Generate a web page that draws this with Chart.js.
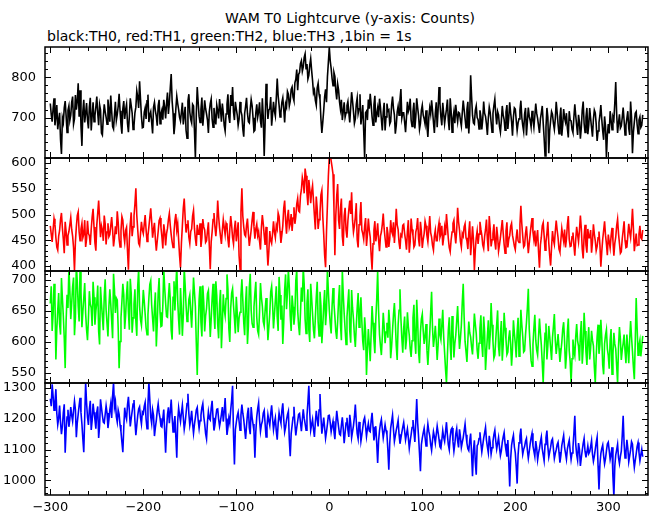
<!DOCTYPE html>
<html>
<head>
<meta charset="utf-8">
<script src="https://cdn.jsdelivr.net/npm/chart.js@4.4.0/dist/chart.umd.min.js"></script>
<style>
  body { margin: 0; background: #fff; }
  #wrap { position: relative; width: 652px; height: 515px; font-family: "DejaVu Sans", sans-serif; }
  .txt { position: absolute; font-size: 14px; line-height: 16px; color: #000; white-space: nowrap; }
  canvas { position: absolute; left: 0; }
</style>
</head>
<body>
<div id="wrap">
  <div class="txt" style="left:48px;width:604px;text-align:center;top:10px">WAM T0 Lightcurve (y-axis: Counts)</div>
  <div class="txt" style="left:47px;top:28px">black:TH0, red:TH1, green:TH2, blue:TH3 ,1bin = 1s</div>
</div>
<script>
// 1 s bins starting at t = -300 s, counts (20 bins per row)
const binStart = -300;
const binWidth = 1;

const th0 = [
  735, 708, 690, 722, 748, 681, 702, 731, 671, 694, 712, 646, 610, 699, 688, 724, 741, 705, 663, 718,
  729, 693, 706, 738, 752, 684, 697, 756, 720, 741, 785, 702, 768, 679, 630, 715, 744, 688, 711, 736,
  694, 673, 726, 749, 668, 704, 738, 690, 705, 727, 752, 711, 681, 732, 719, 662, 657, 700, 733, 715,
  701, 684, 745, 720, 690, 755, 716, 678, 672, 707, 739, 693, 708, 728, 759, 717, 684, 660, 722, 741,
  697, 719, 733, 686, 664, 703, 748, 730, 712, 671, 680, 712, 726, 766, 751, 724, 790, 746, 703, 675,
  676, 713, 724, 697, 742, 757, 689, 707, 715, 688, 661, 726, 738, 717, 703, 680, 729, 744, 685, 710,
  719, 695, 744, 726, 698, 735, 762, 709, 737, 773, 808, 741, 711, 659, 684, 722, 753, 735, 720, 701,
  692, 714, 737, 683, 705, 727, 668, 649, 741, 758, 714, 696, 687, 733, 729, 668, 601, 709, 776, 738,
  703, 688, 721, 750, 680, 709, 743, 722, 709, 694, 662, 715, 735, 746, 697, 676, 724, 702, 683, 731,
  717, 698, 746, 721, 690, 735, 712, 681, 667, 709, 733, 758, 702, 687, 756, 729, 776, 714, 694, 739,
  722, 707, 681, 696, 739, 716, 706, 672, 653, 711, 728, 749, 711, 690, 687, 721, 745, 730, 700, 666,
  669, 712, 733, 701, 714, 738, 692, 675, 748, 702, 605, 688, 784, 741, 697, 719, 722, 751, 680, 708,
  739, 716, 704, 748, 797, 754, 731, 702, 712, 738, 749, 721, 688, 734, 726, 765, 758, 729, 741, 770,
  776, 751, 742, 786, 795, 819, 768, 807, 812, 834, 841, 815, 826, 849, 858, 821, 833, 796, 805, 830,
  846, 817, 792, 761, 768, 743, 731, 774, 785, 758, 746, 697, 662, 689, 718, 752, 770, 738, 801, 837,
  874, 841, 822, 797, 779, 812, 802, 766, 745, 783, 768, 739, 721, 744, 694, 715, 738, 701, 712, 730,
  740, 712, 688, 725, 763, 741, 715, 686, 697, 733, 749, 710, 722, 758, 683, 704, 731, 667, 601, 712,
  716, 694, 745, 722, 759, 733, 702, 681, 731, 754, 688, 709, 724, 701, 747, 726, 696, 668, 713, 737,
  668, 702, 735, 716, 719, 684, 690, 731, 752, 723, 707, 660, 681, 714, 728, 706, 744, 771, 699, 712,
  712, 689, 664, 701, 739, 715, 723, 747, 694, 678, 716, 737, 673, 702, 748, 725, 705, 671, 686, 718,
  731, 706, 697, 684, 718, 679, 652, 700, 724, 709, 743, 718, 689, 662, 711, 738, 676, 720, 776, 735,
  702, 681, 737, 710, 685, 704, 721, 745, 693, 669, 748, 716, 664, 698, 715, 686, 732, 709, 690, 713,
  711, 693, 679, 712, 742, 720, 698, 675, 720, 739, 661, 704, 805, 752, 706, 687, 684, 718, 729, 700,
  695, 672, 718, 703, 671, 696, 740, 711, 703, 684, 657, 699, 726, 713, 689, 664, 711, 730, 746, 708,
  683, 715, 707, 678, 664, 692, 729, 706, 695, 669, 714, 731, 672, 700, 738, 712, 690, 655, 702, 724,
  721, 694, 668, 687, 697, 718, 742, 701, 681, 666, 709, 724, 656, 690, 725, 703, 693, 677, 717, 695,
  676, 704, 735, 711, 698, 680, 662, 697, 712, 729, 687, 650, 605, 676, 724, 701, 612, 668, 693, 715,
  708, 686, 671, 697, 739, 713, 684, 660, 702, 725, 655, 682, 721, 699, 689, 711, 674, 651, 716, 694,
  692, 671, 663, 701, 733, 705, 680, 657, 707, 689, 648, 676, 719, 740, 686, 663, 701, 724, 659, 682,
  724, 698, 675, 653, 696, 719, 712, 684, 642, 667, 688, 706, 731, 695, 667, 645, 703, 679, 601, 658,
  684, 661, 716, 694, 670, 702, 695, 736, 788, 709, 662, 687, 708, 674, 679, 700, 725, 693, 657, 681,
  698, 716, 673, 657, 740, 701, 612, 664, 689, 711, 715, 683, 660, 694, 702, 676, 681, 707
];

const th1 = [
  478, 462, 447, 470, 492, 481, 455, 437, 431, 458, 469, 490, 503, 474, 452, 425, 486, 467, 441, 459,
  467, 480, 494, 471, 458, 436, 391, 447, 476, 498, 505, 466, 449, 472, 483, 455, 462, 489, 437, 452,
  488, 463, 459, 441, 472, 495, 511, 476, 445, 430, 480, 503, 527, 491, 456, 478, 470, 449, 498, 482,
  442, 466, 483, 457, 461, 478, 495, 470, 438, 454, 477, 462, 506, 485, 452, 437, 468, 496, 489, 460,
  446, 469, 475, 430, 393, 451, 482, 504, 458, 476, 497, 520, 551, 498, 471, 444, 440, 463, 486, 470,
  463, 481, 499, 470, 448, 459, 476, 494, 512, 486, 455, 471, 484, 452, 430, 449, 467, 488, 493, 475,
  457, 434, 481, 467, 440, 463, 473, 490, 502, 479, 461, 447, 436, 465, 488, 501, 470, 482, 451, 420,
  397, 445, 478, 512, 531, 494, 465, 480, 489, 456, 444, 467, 472, 497, 508, 473, 453, 439, 480, 462,
  462, 483, 437, 455, 491, 476, 470, 446, 449, 468, 485, 439, 394, 447, 466, 490, 503, 477, 458, 481,
  527, 496, 474, 458, 443, 469, 490, 475, 461, 483, 478, 452, 436, 471, 497, 479, 455, 443, 472, 488,
  448, 466, 485, 420, 394, 505, 551, 497, 476, 461, 458, 479, 492, 463, 439, 454, 470, 489, 505, 477,
  453, 472, 481, 459, 467, 448, 432, 475, 499, 482, 460, 441, 476, 437, 401, 429, 468, 450, 444, 463,
  487, 466, 455, 479, 472, 503, 496, 468, 445, 461, 478, 512, 527, 489, 463, 494, 509, 475, 482, 501,
  468, 493, 514, 482, 496, 520, 531, 507, 505, 536, 548, 572, 562, 541, 589, 575, 541, 518, 567, 549,
  522, 544, 556, 527, 498, 471, 535, 511, 472, 490, 503, 538, 547, 496, 462, 421, 398, 467, 519, 574,
  612, 615, 604, 592, 578, 514, 421, 498, 536, 559, 489, 472, 512, 531, 458, 439, 497, 513, 470, 455,
  488, 509, 527, 501, 543, 489, 466, 478, 495, 522, 451, 436, 480, 497, 524, 470, 463, 452, 477, 493,
  439, 461, 492, 470, 456, 421, 393, 443, 470, 487, 448, 462, 483, 451, 429, 458, 466, 481, 502, 472,
  454, 437, 476, 463, 437, 452, 489, 468, 462, 485, 445, 472, 511, 480, 471, 446, 433, 461, 458, 479,
  481, 463, 450, 432, 467, 489, 426, 448, 492, 471, 459, 437, 441, 466, 474, 493, 452, 438, 486, 468,
  435, 452, 463, 487, 478, 459, 447, 471, 497, 465, 456, 440, 431, 458, 470, 449, 449, 472, 484, 456,
  462, 478, 440, 455, 475, 460, 501, 477, 453, 436, 428, 451, 466, 483, 489, 462, 444, 470, 513, 486,
  470, 448, 437, 463, 458, 476, 482, 455, 449, 433, 465, 487, 421, 446, 477, 452, 392, 431, 455, 468,
  443, 462, 486, 471, 460, 441, 434, 457, 471, 490, 452, 429, 497, 473, 438, 451, 463, 481, 447, 432,
  476, 458, 429, 441, 455, 472, 489, 464, 442, 425, 468, 485, 436, 452, 459, 477, 483, 460, 450, 439,
  432, 455, 471, 449, 446, 480, 517, 482, 458, 437, 440, 463, 477, 451, 425, 444, 462, 479, 493, 466,
  451, 469, 438, 454, 470, 428, 397, 441, 456, 478, 484, 459, 431, 447, 463, 486, 445, 420, 401, 437,
  468, 451, 442, 467, 488, 470, 455, 433, 427, 450, 473, 459, 448, 471, 436, 452, 480, 497, 452, 438,
  439, 457, 465, 441, 420, 452, 476, 461, 447, 470, 498, 473, 433, 415, 458, 480, 441, 426, 472, 455,
  455, 470, 426, 447, 481, 462, 449, 430, 438, 455, 467, 441, 399, 428, 452, 469, 487, 460, 443, 421,
  461, 447, 435, 458, 474, 449, 420, 444, 456, 478, 491, 463, 444, 425, 428, 453, 469, 487, 450, 436,
  437, 459, 482, 466, 455, 478, 511, 474, 429, 446, 463, 440, 441, 462, 478, 455, 452, 470
];

const th2 = [
  662, 690, 618, 645, 694, 668, 572, 621, 651, 679, 629, 612, 703, 671, 642, 607, 558, 634, 676, 655,
  720, 683, 637, 662, 689, 704, 611, 640, 725, 697, 658, 633, 718, 681, 624, 649, 671, 695, 646, 620,
  603, 638, 682, 661, 655, 626, 697, 672, 628, 650, 664, 691, 617, 596, 689, 663, 641, 619, 673, 701,
  652, 630, 609, 657, 685, 662, 634, 606, 710, 684, 647, 671, 668, 622, 558, 601, 639, 665, 694, 676,
  621, 643, 676, 698, 649, 620, 702, 679, 615, 639, 661, 685, 634, 610, 690, 717, 658, 636, 627, 652,
  684, 666, 645, 623, 612, 644, 671, 693, 699, 660, 638, 617, 656, 680, 593, 629, 679, 703, 648, 625,
  626, 659, 718, 687, 663, 641, 640, 672, 695, 668, 619, 604, 672, 698, 651, 690, 722, 666, 635, 612,
  687, 654, 610, 643, 719, 692, 658, 633, 641, 669, 676, 648, 623, 661, 704, 681, 657, 598, 547, 615,
  668, 690, 632, 609, 691, 664, 617, 642, 654, 678, 683, 650, 608, 637, 670, 694, 645, 621, 698, 675,
  629, 606, 661, 684, 590, 628, 677, 652, 642, 670, 709, 686, 621, 600, 655, 679, 686, 659, 638, 614,
  673, 647, 616, 639, 648, 675, 701, 668, 632, 611, 664, 690, 597, 626, 688, 710, 651, 630, 624, 656,
  679, 697, 640, 618, 612, 649, 695, 672, 658, 633, 626, 651, 671, 644, 603, 624, 647, 681, 690, 662,
  622, 644, 667, 690, 641, 618, 705, 676, 636, 659, 597, 631, 684, 709, 653, 680, 716, 688, 642, 618,
  675, 657, 628, 645, 699, 716, 651, 627, 611, 646, 688, 665, 720, 693, 637, 614, 662, 685, 619, 600,
  694, 671, 645, 620, 606, 639, 672, 697, 633, 610, 681, 659, 598, 626, 659, 684, 627, 651, 718, 681,
  652, 630, 614, 658, 687, 662, 641, 617, 605, 634, 668, 692, 629, 603, 716, 677, 646, 621, 596, 640,
  663, 685, 618, 599, 684, 655, 637, 611, 592, 626, 655, 679, 624, 648, 672, 633, 601, 587, 640, 617,
  547, 588, 621, 596, 569, 614, 658, 631, 603, 582, 636, 669, 714, 650, 612, 594, 579, 608, 647, 625,
  598, 616, 631, 607, 652, 629, 574, 593, 619, 644, 663, 632, 594, 571, 627, 651, 685, 638, 606, 583,
  622, 641, 588, 604, 648, 625, 611, 589, 576, 602, 639, 660, 603, 581, 668, 634, 584, 566, 616, 637,
  645, 618, 597, 610, 629, 587, 563, 591, 614, 648, 681, 622, 592, 607, 626, 603, 571, 595, 638, 612,
  604, 627, 652, 609, 583, 556, 534, 578, 619, 640, 596, 571, 642, 618, 575, 598, 611, 634, 658, 621,
  589, 606, 627, 664, 694, 640, 601, 585, 568, 603, 633, 615, 608, 592, 580, 611, 646, 629, 614, 587,
  573, 598, 622, 643, 597, 576, 641, 617, 555, 583, 610, 635, 588, 612, 663, 628, 601, 574, 579, 604,
  628, 651, 593, 577, 612, 634, 570, 596, 647, 623, 604, 580, 584, 607, 619, 597, 562, 589, 635, 614,
  598, 575, 616, 639, 577, 601, 652, 628, 609, 584, 586, 612, 631, 655, 686, 621, 594, 570, 561, 596,
  622, 644, 603, 587, 579, 608, 638, 615, 595, 566, 534, 581, 614, 630, 572, 594, 626, 609, 590, 571,
  607, 625, 645, 603, 581, 596, 613, 590, 568, 584, 599, 621, 632, 601, 557, 579, 616, 638, 586, 569,
  534, 573, 604, 586, 578, 609, 629, 602, 593, 570, 612, 634, 565, 591, 647, 618, 584, 563, 601, 624,
  572, 590, 618, 603, 594, 560, 534, 577, 609, 628, 581, 596, 636, 607, 563, 548, 597, 611, 620, 589,
  578, 557, 603, 621, 548, 580, 615, 597, 589, 562, 534, 593, 624, 605, 571, 587, 598, 612, 586, 566,
  612, 589, 566, 604, 634, 608, 585, 560, 540, 601, 671, 623, 579, 595, 603, 577, 592, 610
];

const th3 = [
  1265, 1241, 1312, 1274, 1228, 1253, 1296, 1217, 1181, 1202, 1243, 1188, 1150, 1176, 1219, 1247, 1090, 1163, 1206, 1229,
  1174, 1199, 1238, 1211, 1192, 1226, 1257, 1230, 1140, 1187, 1215, 1243, 1268, 1220, 1183, 1135, 1092, 1204, 1318, 1252,
  1205, 1180, 1231, 1258, 1164, 1195, 1249, 1221, 1197, 1168, 1222, 1240, 1138, 1177, 1263, 1236, 1211, 1189, 1186, 1214,
  1242, 1219, 1170, 1196, 1229, 1250, 1203, 1274, 1318, 1238, 1256, 1207, 1189, 1228, 1214, 1180, 1158, 1124, 1092, 1171,
  1236, 1210, 1198, 1245, 1271, 1226, 1175, 1201, 1224, 1248, 1261, 1193, 1147, 1179, 1210, 1232, 1239, 1204, 1183, 1222,
  1217, 1240, 1253, 1199, 1168, 1244, 1320, 1262, 1206, 1185, 1229, 1211, 1144, 1172, 1195, 1226, 1248, 1219, 1202, 1176,
  1173, 1201, 1230, 1160, 1090, 1168, 1214, 1237, 1186, 1222, 1262, 1205, 1157, 1183, 1209, 1141, 1074, 1193, 1235, 1212,
  1191, 1220, 1244, 1205, 1166, 1187, 1218, 1249, 1281, 1216, 1179, 1198, 1226, 1184, 1153, 1182, 1204, 1229, 1237, 1196,
  1169, 1194, 1212, 1236, 1249, 1208, 1184, 1152, 1135, 1190, 1223, 1201, 1196, 1234, 1258, 1203, 1162, 1180, 1207, 1231,
  1232, 1199, 1176, 1193, 1214, 1238, 1191, 1222, 1267, 1201, 1148, 1171, 1203, 1187, 1229, 1261, 1307, 1148, 1052, 1165,
  1188, 1209, 1221, 1192, 1163, 1212, 1246, 1218, 1197, 1166, 1135, 1178, 1215, 1236, 1170, 1150, 1238, 1204, 1183, 1160,
  1074, 1158, 1206, 1232, 1251, 1196, 1159, 1181, 1192, 1218, 1227, 1183, 1141, 1177, 1213, 1193, 1178, 1216, 1244, 1202,
  1165, 1187, 1203, 1160, 1132, 1184, 1219, 1200, 1186, 1226, 1250, 1199, 1157, 1172, 1196, 1213, 1224, 1131, 1079, 1152,
  1178, 1205, 1239, 1184, 1146, 1171, 1192, 1214, 1217, 1188, 1160, 1197, 1231, 1202, 1184, 1163, 1209, 1254, 1307, 1218,
  1163, 1181, 1198, 1166, 1141, 1189, 1226, 1199, 1175, 1228, 1280, 1207, 1152, 1176, 1204, 1171, 1137, 1158, 1183, 1210,
  1211, 1187, 1158, 1176, 1192, 1160, 1134, 1183, 1226, 1199, 1173, 1150, 1147, 1179, 1205, 1168, 1121, 1154, 1186, 1203,
  1164, 1141, 1213, 1187, 1139, 1158, 1178, 1206, 1246, 1193, 1152, 1135, 1190, 1169, 1127, 1148, 1171, 1195, 1204, 1176,
  1143, 1167, 1185, 1161, 1158, 1193, 1219, 1174, 1130, 1151, 1176, 1121, 1057, 1128, 1162, 1184, 1198, 1167, 1138, 1159,
  1181, 1162, 1149, 1098, 1035, 1121, 1170, 1191, 1212, 1166, 1127, 1145, 1163, 1178, 1195, 1150, 1119, 1137, 1156, 1173,
  1188, 1160, 1132, 1150, 1167, 1139, 1104, 1128, 1149, 1172, 1196, 1158, 1125, 1190, 1264, 1187, 1142, 1088, 1030, 1116,
  1137, 1154, 1169, 1140, 1112, 1151, 1183, 1160, 1145, 1117, 1098, 1130, 1158, 1142, 1121, 1149, 1176, 1155, 1133, 1109,
  1104, 1131, 1162, 1140, 1127, 1158, 1189, 1147, 1116, 1100, 1143, 1165, 1170, 1126, 1095, 1119, 1151, 1168, 1128, 1107,
  1166, 1142, 1107, 1124, 1139, 1161, 1183, 1148, 1121, 1103, 1097, 1129, 1152, 1085, 1014, 1098, 1130, 1061, 1019, 1113,
  1118, 1136, 1156, 1121, 1093, 1115, 1137, 1154, 1172, 1131, 1109, 1090, 1145, 1123, 1086, 1106, 1127, 1149, 1163, 1128,
  1102, 1120, 1139, 1108, 1081, 1096, 1124, 1141, 1155, 1119, 1098, 1077, 1131, 1062, 981, 1070, 1114, 1133, 1147, 1109,
  1090, 1046, 990, 1083, 1122, 1145, 1168, 1117, 1085, 1101, 1110, 1127, 1136, 1098, 1072, 1094, 1119, 1138, 1153, 1112,
  1095, 1078, 1128, 1106, 1067, 1089, 1104, 1125, 1141, 1102, 1083, 1064, 1117, 1139, 1162, 1110, 1076, 1093, 1108, 1129,
  1135, 1103, 1071, 1087, 1099, 1116, 1124, 1092, 1058, 1081, 1113, 1130, 1146, 1107, 1089, 1069, 1102, 1118, 1131, 1096,
  1068, 1089, 1107, 1153, 1210, 1118, 1084, 1066, 1121, 1100, 1047, 1074, 1098, 1120, 1136, 1094, 1075, 1091, 1112, 1087,
  1093, 1110, 1129, 1085, 1062, 1079, 1101, 1123, 1140, 1048, 971, 1052, 1087, 1104, 1115, 1080, 1054, 1071, 1096, 1118,
  1124, 1097, 1069, 1085, 1108, 1012, 949, 1046, 1082, 1099, 1117, 1074, 1055, 1078, 1095, 1146, 1210, 1119, 1073, 1090,
  1132, 1104, 1061, 1080, 1099, 1126, 1118, 1073, 1042, 1065, 1086, 1110, 1123, 1091, 1064, 1083, 1101, 1077
];

// tick labels
const xTickLabels = [-300, -200, -100, 0, 100, 200, 300];
const yTicksTH0 = [700, 800];
const yTicksTH1 = [400, 450, 500, 550, 600];
const yTicksTH2 = [550, 600, 650, 700];
const yTicksTH3 = [1000, 1100, 1200, 1300];

const FONT = { family: 'DejaVu Sans', size: 13 };

const panels = [
  { values: th0, color: '#000000', min: 600, max: 875, ticks: yTicksTH0, minor: 20, major: 100, top: 47, bottom: 158 },
  { values: th1, color: '#ff0000', min: 390.5, max: 609.5, ticks: yTicksTH1, minor: 10, major: 50, top: 158, bottom: 271 },
  { values: th2, color: '#00ff00', min: 534, max: 714.5, ticks: yTicksTH2, minor: 10, major: 50, top: 271, bottom: 383 },
  { values: th3, color: '#0000ff', min: 953, max: 1316, ticks: yTicksTH3, minor: 20, major: 100, top: 383, bottom: 495 }
];

// frame with inward ticks on all four sides
const frameTicks = {
  id: 'frameTicks',
  afterDatasetsDraw(chart, args, opts) {
    const ctx = chart.ctx;
    const a = chart.chartArea;
    const x = chart.scales.x, y = chart.scales.y;
    ctx.save();
    ctx.strokeStyle = '#000';
    ctx.lineWidth = 1;
    ctx.beginPath();
    for (let v = -300; v <= 340; v += 20) {
      const px = Math.round(x.getPixelForValue(v)) + 0.5;
      const len = v % 100 === 0 ? 6 : 4;
      ctx.moveTo(px, a.top); ctx.lineTo(px, a.top + len);
      ctx.moveTo(px, a.bottom); ctx.lineTo(px, a.bottom - len);
    }
    for (let v = Math.ceil(y.min / opts.minor) * opts.minor; v <= y.max; v += opts.minor) {
      const py = Math.round(y.getPixelForValue(v)) + 0.5;
      const len = v % opts.major === 0 ? 6 : 3;
      ctx.moveTo(a.left, py); ctx.lineTo(a.left + len, py);
      ctx.moveTo(a.right, py); ctx.lineTo(a.right - len, py);
    }
    ctx.stroke();
    ctx.lineWidth = 1.5;
    ctx.strokeRect(a.left, a.top, a.right - a.left, a.bottom - a.top);
    ctx.restore();
  }
};

function noEdgePadding(s) {
  s.paddingTop = 0;
  s.paddingBottom = 0;
  s.paddingLeft = 0;
  s.paddingRight = 0;
}

const wrap = document.getElementById('wrap');

panels.forEach((p, i) => {
  const isLast = i === panels.length - 1;
  const canvas = document.createElement('canvas');
  const top = p.top - 10;
  const height = isLast ? 515 - top : (p.bottom - p.top) + 20;
  canvas.width = 652;
  canvas.height = height;
  canvas.style.top = top + 'px';
  wrap.appendChild(canvas);

  new Chart(canvas.getContext('2d'), {
    type: 'line',
    data: {
      datasets: [{
        data: p.values.map((v, k) => ({ x: binStart + k * binWidth, y: v })),
        borderColor: p.color,
        borderWidth: 1.6,
        pointRadius: 0,
        tension: 0,
        fill: false
      }]
    },
    options: {
      responsive: false,
      animation: false,
      events: [],
      layout: { padding: { top: 10, bottom: isLast ? 0 : 10, left: 0, right: 4 } },
      plugins: {
        legend: { display: false },
        tooltip: { enabled: false },
        frameTicks: { minor: p.minor, major: p.major }
      },
      scales: {
        x: {
          type: 'linear',
          min: -305.7,
          max: 342.7,
          display: isLast,
          grid: { display: false, drawTicks: false },
          border: { display: false },
          afterBuildTicks: s => { s.ticks = xTickLabels.map(v => ({ value: v })); },
          afterFit: s => {
            noEdgePadding(s);
            if (isLast) s.height = 20;
          },
          ticks: {
            padding: 5,
            color: '#000',
            font: FONT,
            maxRotation: 0,
            autoSkip: false,
            callback: v => String(v).replace('-', '\u2212')
          }
        },
        y: {
          min: p.min,
          max: p.max,
          grid: { display: false, drawTicks: false },
          border: { display: false },
          afterBuildTicks: s => { s.ticks = p.ticks.map(v => ({ value: v })); },
          afterFit: s => {
            noEdgePadding(s);
            s.width = 45;
          },
          ticks: {
            padding: 9,
            color: '#000',
            font: FONT,
            autoSkip: false,
            callback: v => String(v)
          }
        }
      }
    },
    plugins: [frameTicks]
  });
});
</script>
</body>
</html>
